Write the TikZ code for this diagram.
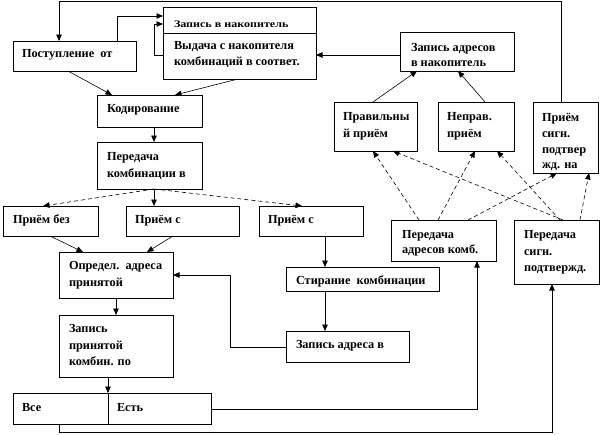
\documentclass[tikz,border=0pt]{standalone}
\usepackage{fontspec}
\setmainfont{Liberation Serif}
\usetikzlibrary{arrows.meta,calc}
\begin{document}
\begin{tikzpicture}[x=1pt,y=-1pt,
  box/.style={draw, line width=0.7pt, inner sep=0pt, outer sep=0pt, anchor=north west},
  lbl/.style={anchor=base west, inner sep=0pt, outer sep=0pt, font=\fontsize{12.3}{14}\selectfont\bfseries},
  arr/.style={line width=0.6pt, -{Triangle[length=6.5pt,width=5.5pt]}},
  dsh/.style={arr, dash pattern=on 4pt off 3pt}]
\useasboundingbox (0,0) rectangle (602,434);
% boxes
\node[box, minimum width=123, minimum height=30] (A) at (13,41) {};
\node[box, minimum width=153, minimum height=72] (B) at (163,7) {};
\node[box, minimum width=105, minimum height=32] (C) at (97,95) {};
\node[box, minimum width=105, minimum height=47] (D) at (97,142) {};
\node[box, minimum width=95, minimum height=30] (E1) at (3,206) {};
\node[box, minimum width=113, minimum height=30] (E2) at (126,206) {};
\node[box, minimum width=104, minimum height=30] (E3) at (259,206) {};
\node[box, minimum width=114, minimum height=46] (F) at (59,252) {};
\node[box, minimum width=114, minimum height=62] (G) at (59,315) {};
\node[box, minimum width=198, minimum height=31] (H) at (13,393) {};
\node[box, minimum width=153, minimum height=24] (I) at (286,267) {};
\node[box, minimum width=123, minimum height=31] (J) at (286,331) {};
\node[box, minimum width=114, minimum height=39] (K) at (400,32) {};
\node[box, minimum width=83, minimum height=49] (L) at (334,102) {};
\node[box, minimum width=76, minimum height=49] (M) at (438,102) {};
\node[box, minimum width=65, minimum height=71] (N) at (533,102) {};
\node[box, minimum width=105, minimum height=41] (O) at (391,220) {};
\node[box, minimum width=85, minimum height=64] (P) at (514,220) {};
% dividers
\draw[line width=0.7pt] ($(B.north west)+(0,26)$) -- ($(B.north east)+(0,26)$);
\draw[line width=0.7pt] ($(H.north west)+(95,0)$) -- ($(H.south west)+(95,0)$);
% texts
\node[lbl] (tA) at (22,57) {Поступление\ \ от};
\node[lbl] (tB1) at (174,27) {\scalebox{0.98}[0.82]{Запись в накопитель}};
\node[lbl] (tB2) at (174,49) {Выдача с накопителя};
\node[lbl] (tB3) at (174,65) {комбинаций в соответ.};
\node[lbl] (tC) at (107,112) {Кодирование};
\node[lbl] (tD1) at (107,160) {Передача};
\node[lbl] (tD2) at (107,177) {комбинации в};
\node[lbl] (tE1) at (13,223) {Приём без};
\node[lbl] (tE2) at (135,223) {Приём с};
\node[lbl] (tE3) at (268,223) {Приём с};
\node[lbl] (tF1) at (69,269) {Определ.\ \ адреса};
\node[lbl] (tF2) at (69,286) {принятой};
\node[lbl] (tG1) at (69,332) {Запись};
\node[lbl] (tG2) at (69,349) {принятой};
\node[lbl] (tG3) at (69,365) {комбин. по};
\node[lbl] (tH1) at (22,411) {Все};
\node[lbl] (tH2) at (117,411) {Есть};
\node[lbl] (tI) at (296,284) {Стирание\ \ комбинации};
\node[lbl] (tJ) at (296,348) {Запись адреса в};
\node[lbl] (tK1) at (411,51) {Запись адресов};
\node[lbl] (tK2) at (411,66) {в накопитель};
\node[lbl] (tL1) at (343,120) {Правильны};
\node[lbl] (tL2) at (343,137) {й приём};
\node[lbl] (tM1) at (447,120) {Неправ.};
\node[lbl] (tM2) at (447,137) {приём};
\node[lbl] (tN1) at (542,121) {Приём};
\node[lbl] (tN2) at (542,137) {сигн.};
\node[lbl] (tN3) at (542,153) {подтвер};
\node[lbl] (tN4) at (542,168) {жд. на};
\node[lbl] (tO1) at (402,238) {Передача};
\node[lbl] (tO2) at (402,253) {адресов комб.};
\node[lbl] (tP1) at (524,238) {Передача};
\node[lbl] (tP2) at (524,255) {сигн.};
\node[lbl] (tP3) at (524,271) {подтвержд.};
% connectors
\draw[arr] ($(N.north west)+(28,0)$) -- ++(0,-101) -| ($(A.north west)+(46,0)$);
\draw[arr] ($(A.north west)+(104,0)$) |- ($(B.north west)+(0,9)$);
\draw[arr] ($(B.north west)+(0,48)$) -- ++(-9,0) |- ($(B.north west)+(0,17)$);
\draw[arr] ($(K.north west)+(0,23)$) -- ($(B.north east)+(0,48)$);
\draw[arr] ($(A.south west)+(55,0)$) -- ($(C.north west)+(15,0)$);
\draw[arr] ($(B.south west)+(75,0)$) -- ($(C.north west)+(78,0)$);
\draw[arr] ($(C.south west)+(57,0)$) -- ($(D.north west)+(57,0)$);
\draw[dsh] ($(D.south west)+(57,0)$) -- ($(E1.north west)+(40,0)$);
\draw[arr] ($(D.south west)+(57,0)$) -- ($(E2.north west)+(28,0)$);
\draw[dsh] ($(D.south west)+(57,0)$) -- ($(E3.north west)+(43,0)$);
\draw[arr] ($(E1.south west)+(47,0)$) -- ($(F.north west)+(24,0)$);
\draw[arr] ($(E2.south west)+(47,0)$) -- ($(F.north west)+(88,0)$);
\draw[arr] ($(E3.south west)+(66,0)$) -- ($(I.north west)+(39,0)$);
\draw[arr] ($(I.south west)+(39,0)$) -- ($(J.north west)+(39,0)$);
\draw[arr] ($(J.north west)+(0,16)$) -- ++(-56,0) |- ($(F.north east)+(0,23)$);
\draw[arr] ($(F.south west)+(57,0)$) -- ($(G.north west)+(57,0)$);
\draw[arr] ($(G.south west)+(49,0)$) -- ($(H.north west)+(95,0)$);
\draw[arr] ($(H.north east)+(0,16)$) -| ($(O.south west)+(86,0)$);
\draw[arr] ($(H.south west)+(46,0)$) -- ++(0,8) -| ($(P.south west)+(38,0)$);
\draw[arr] ($(L.north west)+(39,0)$) -- ($(K.south west)+(17,0)$);
\draw[arr] ($(M.north west)+(47,0)$) -- ($(K.south west)+(58,0)$);
\draw[dsh] ($(O.north west)+(28,0)$) -- ($(L.south west)+(39,0)$);
\draw[dsh] ($(O.north west)+(47,0)$) -- ($(M.south west)+(37,0)$);
\draw[dsh] ($(O.north west)+(77,0)$) -- ($(N.south west)+(24,0)$);
\draw[dsh] ($(P.north west)+(49,0)$) -- ($(L.south west)+(59,0)$);
\draw[dsh] ($(P.north west)+(46,0)$) -- ($(M.south west)+(59,0)$);
\draw[dsh] ($(P.north west)+(66,0)$) -- ($(N.south west)+(56,0)$);
\end{tikzpicture}
\end{document}
